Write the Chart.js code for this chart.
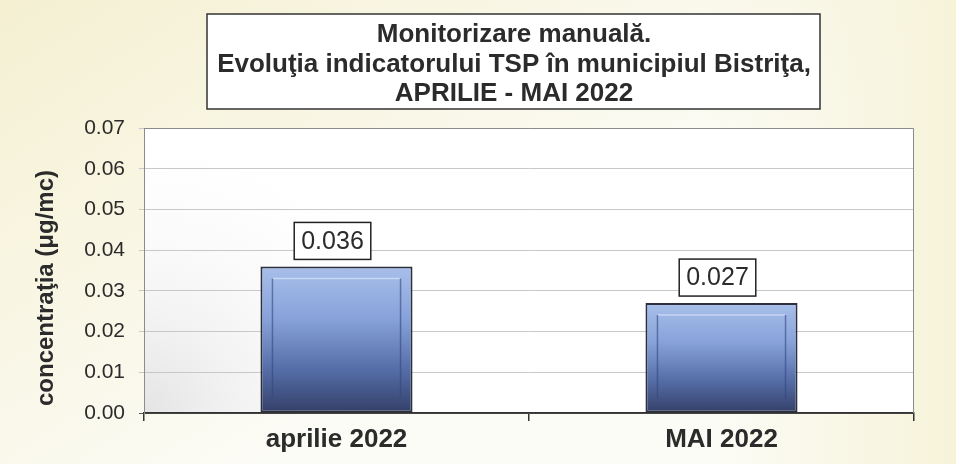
<!DOCTYPE html>
<html>
<head>
<meta charset="utf-8">
<script src="https://cdn.jsdelivr.net/npm/chart.js@4.4.1/dist/chart.umd.min.js"></script>
<style>
  html, body { margin: 0; padding: 0; background: #fbfaf0; }
  #wrap { width: 956px; height: 464px; position: relative; }
</style>
</head>
<body>
<div id="wrap"><canvas id="tspChart" width="956" height="464"></canvas></div>
<script>
"use strict"
//chart data
var categories = ["aprilie 2022", "MAI 2022"];
var tspValues = [0.036, 0.027];//concentratia TSP
var yTicks = [0.00, 0.01, 0.02, 0.03, 0.04, 0.05, 0.06, 0.07];
var titleLines = ["Monitorizare manuală.", "Evoluţia indicatorului TSP în municipiul Bistriţa,", "APRILIE - MAI 2022"];
var yTitle = "concentraţia (μg/mc)";

var FONT = "'Liberation Sans', Arial, sans-serif";
var TEXT = "#2b2b2b";

//bar fill: light blue on top -> dark navy at the base
function barFill(ctx) {
  var chart = ctx.chart;
  if (!chart.chartArea || ctx.dataIndex === undefined) return "#6f8bc6";
  var y = chart.scales.y;
  var top = y.getPixelForValue(tspValues[ctx.dataIndex]);
  var base = y.getPixelForValue(0);
  var g = chart.ctx.createLinearGradient(0, top, 0, base);
  g.addColorStop(0, "#a7bfe9");
  g.addColorStop(0.35, "#88a3da");
  g.addColorStop(0.7, "#566ea8");
  g.addColorStop(1, "#333f68");
  return g;
}

//page + plot background, title box, y title
var decorPlugin = {
  id: "decor",
  beforeDraw: function(chart) {
    var c = chart.ctx, a = chart.chartArea;
    c.save();
    var bg = c.createLinearGradient(0, 0, 300, 464);
    bg.addColorStop(0, "#f5f0d2");
    bg.addColorStop(1, "#fcfcf7");
    c.fillStyle = bg;
    c.fillRect(0, 0, chart.width, chart.height);
    var bgR = c.createLinearGradient(700, 0, 956, 0);
    bgR.addColorStop(0, "rgba(246,242,214,0)");
    bgR.addColorStop(1, "rgba(246,242,214,0.9)");
    c.fillStyle = bgR;
    c.fillRect(0, 0, chart.width, chart.height);
    //plot area: white, faint grey in the lower left
    c.fillStyle = "#ffffff";
    c.fillRect(a.left, a.top, a.right - a.left, a.bottom - a.top);
    var pg = c.createRadialGradient(a.left, a.bottom, 0, a.left, a.bottom, 300);
    pg.addColorStop(0, "rgba(225,225,225,0.9)");
    pg.addColorStop(1, "rgba(255,255,255,0)");
    c.fillStyle = pg;
    c.fillRect(a.left, a.top, a.right - a.left, a.bottom - a.top);
    c.restore();
  },
  afterDraw: function(chart) {
    var c = chart.ctx, a = chart.chartArea;
    c.save();
    //plot frame top/right
    c.strokeStyle = "#8c8c8c";
    c.lineWidth = 1;
    c.beginPath();
    c.moveTo(a.left, a.top + 0.5);
    c.lineTo(a.right - 0.5, a.top + 0.5);
    c.lineTo(a.right - 0.5, a.bottom);
    c.stroke();
    //title box
    c.fillStyle = "#ffffff";
    c.fillRect(207, 14, 613, 95);
    c.strokeStyle = "#333333";
    c.lineWidth = 1.5;
    c.strokeRect(207, 14, 613, 95);
    c.fillStyle = TEXT;
    c.font = "bold 26px " + FONT;
    c.textAlign = "center";
    c.textBaseline = "alphabetic";
    titleLines.forEach(function(line, i) {
      c.fillText(line, 514, 42 + i * 29.5);
    });
    //y axis title
    c.translate(46, 288);
    c.rotate(-Math.PI / 2);
    c.font = "bold 24px " + FONT;
    c.textBaseline = "middle";
    c.fillText(yTitle, 0, 0);
    c.restore();
  }
};

//bar inner lines + value boxes
var labelPlugin = {
  id: "valueBoxes",
  afterDatasetsDraw: function(chart) {
    var c = chart.ctx;
    var meta = chart.getDatasetMeta(0);
    c.save();
    meta.data.forEach(function(bar, i) {
      var half = bar.width / 2;
      //inner bevel lines
      c.lineWidth = 1.5;
      c.strokeStyle = "rgba(235,242,255,0.55)";
      c.beginPath();
      c.moveTo(bar.x - half + 12, bar.y + 12);
      c.lineTo(bar.x + half - 12, bar.y + 12);
      c.stroke();
      c.strokeStyle = "rgba(50,70,130,0.6)";
      c.beginPath();
      c.moveTo(bar.x - half + 12, bar.y + 12);
      c.lineTo(bar.x - half + 12, bar.base - 14);
      c.moveTo(bar.x + half - 12, bar.y + 12);
      c.lineTo(bar.x + half - 12, bar.base - 14);
      c.stroke();
      //value box
      var txt = tspValues[i].toFixed(3);
      c.font = "25px " + FONT;
      var w = c.measureText(txt).width + 14;
      var h = 37;
      var bx = bar.x - 4 - w / 2, by = bar.y - 7 - h;
      c.fillStyle = "#ffffff";
      c.fillRect(bx, by, w, h);
      c.strokeStyle = "#222222";
      c.lineWidth = 1.5;
      c.strokeRect(bx, by, w, h);
      c.fillStyle = TEXT;
      c.textAlign = "center";
      c.textBaseline = "middle";
      c.fillText(txt, bx + w / 2, by + h / 2 + 1);
    });
    c.restore();
  }
};

var tspC = document.getElementById("tspChart");
var tspChart = new Chart(tspC, {
  type: "bar",
  data: {
    labels: categories,
    datasets: [{
      label: "TSP",
      data: tspValues,
      backgroundColor: barFill,
      borderColor: "#2b2f3e",
      borderWidth: 2,
      borderSkipped: false,
      barPercentage: 0.395,
      categoryPercentage: 1
    }]
  },
  options: {
    responsive: false,
    animation: false,
    layout: { padding: { top: 128, right: 42, bottom: 0, left: 0 } },
    plugins: {
      legend: { display: false },
      tooltip: { enabled: false },
      title: { display: false }
    },
    scales: {
      x: {
        afterFit: function(s) { s.height = 51; },
        grid: { offset: true, drawOnChartArea: false, color: "#333333", tickLength: 8, lineWidth: 1.5 },
        border: { color: "#333333", width: 1.5 },
        ticks: { color: TEXT, padding: 3, font: { family: FONT, size: 26, weight: "bold" } }
      },
      y: {
        min: 0,
        max: 0.07,
        afterFit: function(s) { s.width = 144; },
        afterBuildTicks: function(s) { s.ticks = yTicks.map(function(v) { return { value: v }; }); },
        grid: {
          color: function(ctx) { return ctx.tick && ctx.tick.value === 0 ? "#555555" : "#c8c8c8"; },
          tickLength: 5,
          lineWidth: 1
        },
        border: { color: "#8c8c8c", width: 1, dash: [] },
        ticks: {
          color: TEXT,
          padding: 14,
          font: { family: FONT, size: 21 },
          callback: function(v) { return Number(v).toFixed(2); }
        }
      }
    }
  },
  plugins: [decorPlugin, labelPlugin]
});
</script>
</body>
</html>
